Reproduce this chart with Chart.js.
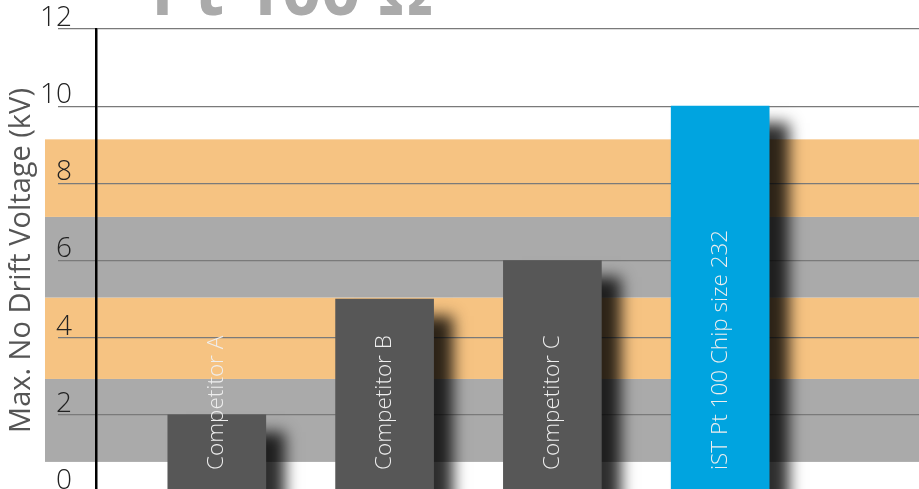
<!DOCTYPE html>
<html><head><meta charset="utf-8">
<script src="https://cdn.jsdelivr.net/npm/chart.js@4"></script>
<style>
html,body{margin:0;padding:0;overflow:hidden;background:#fff;width:919px;height:489px}
#wrap{position:relative;width:919px;height:509px}
</style></head>
<body><div id="wrap"><canvas id="c"></canvas></div>
<script>
const categories = ['Competitor A', 'Competitor B', 'Competitor C', 'iST Pt 100 Chip size 232'];
const values = [2, 5, 6, 10];
const barColors = ['#575757', '#575757', '#575757', '#00a4e0'];
const yTicks = [0, 2, 4, 6, 8, 10, 12];
const bandLow = [0.78, 2.93, 5.04, 7.13];
const bandHigh = [2.93, 5.04, 7.13, 9.14];
const bandColors = ['#aaaaaa', '#f6c382', '#aaaaaa', '#f6c382'];
const yTitle = 'Max. No Drift Voltage (kV)';
const chartTitle = 'Pt 100 Ω';

const bandsPlugin = {
  id: 'bands',
  beforeDraw(chart) {
    const y = chart.scales.y, ctx = chart.ctx;
    ctx.save();
    bandLow.forEach((lo, i) => {
      const top = y.getPixelForValue(bandHigh[i]);
      const bot = y.getPixelForValue(lo);
      ctx.fillStyle = bandColors[i];
      ctx.fillRect(45, top, chart.width - 45, bot - top);
    });
    ctx.restore();
  }
};
const shadowPlugin = {
  id: 'shadow',
  beforeDatasetDraw(chart) {
    const ctx = chart.ctx;
    ctx.save();
    ctx.shadowColor = 'rgba(0,0,0,0.82)';
    ctx.shadowBlur = 14;
    ctx.shadowOffsetX = 19;
    ctx.shadowOffsetY = 17;
  },
  afterDatasetDraw(chart) { chart.ctx.restore(); }
};
const labelPlugin = {
  id: 'barLabels',
  afterDatasetsDraw(chart) {
    const ctx = chart.ctx;
    const meta = chart.getDatasetMeta(0);
    const y0 = chart.scales.y.getPixelForValue(0);
    ctx.save();
    ctx.fillStyle = '#eeeeee';
    ctx.font = '300 22.5px "Open Sans"';
    ctx.textAlign = 'left';
    ctx.textBaseline = 'middle';
    meta.data.forEach((bar, i) => {
      ctx.save();
      ctx.translate(bar.x, y0 - 22);
      ctx.rotate(-Math.PI / 2);
      ctx.fillText(categories[i], 0, 0);
      ctx.restore();
    });
    ctx.restore();
  }
};
const titlePlugin = {
  id: 'topTitle',
  afterDraw(chart) {
    const ctx = chart.ctx;
    ctx.save();
    ctx.fillStyle = '#aaaaaa';
    ctx.font = 'bold 69px "Open Sans"';
    ctx.textAlign = 'left';
    ctx.textBaseline = 'alphabetic';
    ctx.fillText(chartTitle, 151, 15);
    ctx.restore();
  }
};

new Chart(document.getElementById('c'), {
  type: 'bar',
  data: {
    datasets: [{
      data: values.map((v, i) => ({ x: i, y: v })),
      backgroundColor: barColors,
      borderWidth: 0,
      barThickness: 98
    }]
  },
  options: {
    responsive: true,
    maintainAspectRatio: false,
    animation: false,
    layout: { padding: { top: 29, bottom: 17, left: 0, right: 0 } },
    plugins: { legend: { display: false }, tooltip: { enabled: false } },
    scales: {
      x: { type: 'linear', display: false, offset: false, min: -0.72, max: 4.185 },
      y: {
        min: 0, max: 12,
        afterBuildTicks: s => { s.ticks = yTicks.map(v => ({ value: v })); },
        afterFit: s => { s.width = 96; s.paddingTop = 0; s.paddingBottom = 0; },
        grid: { color: '#7a7a7a', lineWidth: 1.2, tickLength: 38, drawTicks: true, tickColor: '#7a7a7a' },
        border: { display: true, color: '#000', width: 2.5 },
        ticks: { padding: -14, labelOffset: -11, color: '#222', font: { family: '"Open Sans"', size: 28, weight: '300' } },
        title: { display: true, text: yTitle, color: '#555', font: { family: '"Open Sans"', size: 29 }, padding: { top: 4, bottom: 0 } }
      }
    }
  },
  plugins: [bandsPlugin, shadowPlugin, labelPlugin, titlePlugin]
});
</script>
</body></html>
